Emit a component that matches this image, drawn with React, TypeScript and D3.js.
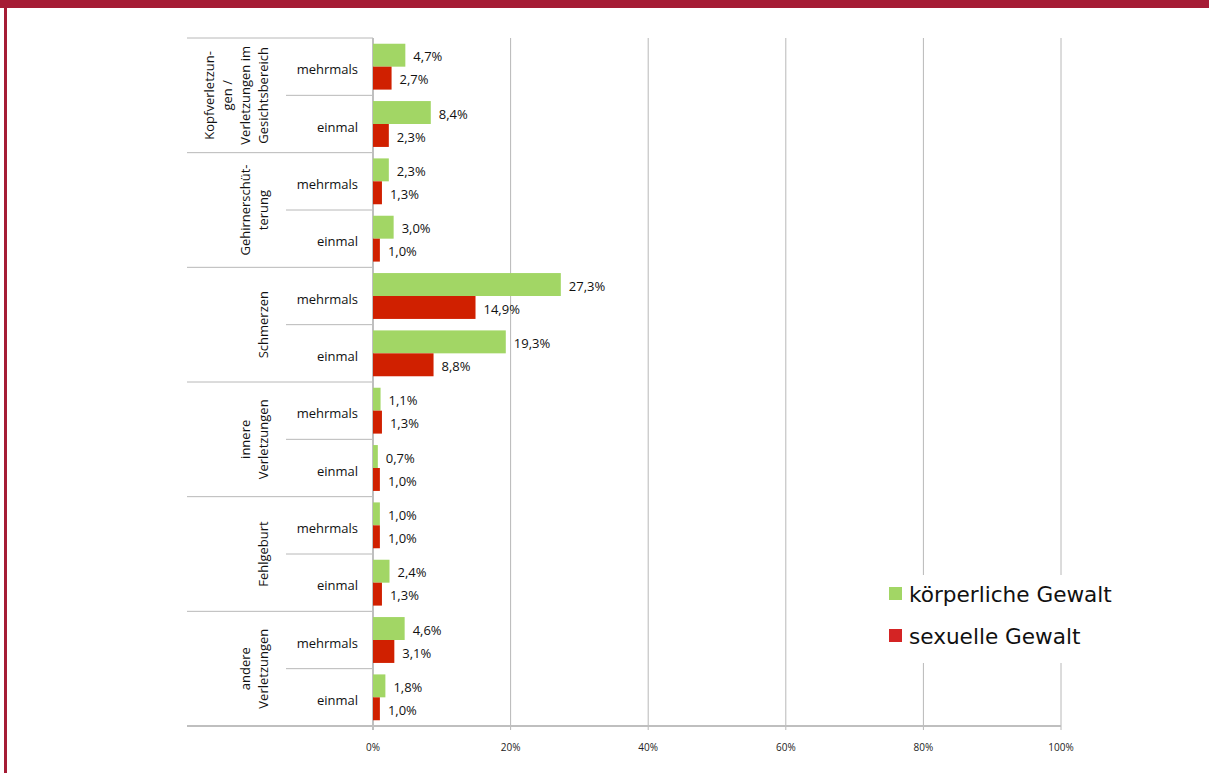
import React from "react";
import * as d3 from "d3";

const groups = ["Kopfverletzungen", "Gehirnerschütterung", "Schmerzen", "innere Verletzungen", "Fehlgeburt", "andere Verletzungen"];
const groupLabelLines = [
  ["Kopfverletzun-", "gen /", "Verletzungen im", "Gesichtsbereich"],
  ["Gehirnerschüt-", "terung"],
  ["Schmerzen"],
  ["innere", "Verletzungen"],
  ["Fehlgeburt"],
  ["andere", "Verletzungen"],
];
const subCategories = ["mehrmals", "einmal"];
const seriesNames = ["körperliche Gewalt", "sexuelle Gewalt"];
// values per group: [mehrmals, einmal]
const koerperlich = [4.7, 8.4, 2.3, 3.0, 27.3, 19.3, 1.1, 0.7, 1.0, 2.4, 4.6, 1.8];
const sexuell = [2.7, 2.3, 1.3, 1.0, 14.9, 8.8, 1.3, 1.0, 1.0, 1.3, 3.1, 1.0];
const ticks = [0, 20, 40, 60, 80, 100];

const GREEN = "#a2d665";
const RED = "#d02000";
const GRID = "#b8b8b8";
const FONT = "'Open Sans', 'Noto Sans', sans-serif";

export default function App() {
  const W = 1209, H = 773;
  const left = 373, right = 1061, top = 38, bottom = 726;
  const x = d3.scaleLinear().domain([0, 100]).range([left, right]);
  const rows = groups.flatMap((g, gi) => subCategories.map((s, si) => `${gi}-${si}`));
  const y = d3.scaleBand().domain(rows).range([top, bottom]).paddingInner(0).paddingOuter(0);
  const yg = d3.scaleBand().domain(groups).range([top, bottom]);
  const inner = d3.scaleBand().domain(seriesNames).range([0, y.bandwidth()]).paddingOuter(0.25).paddingInner(0);
  const fmt = (v: number) => v.toFixed(1).replace(".", ",") + "%";

  return (
    <svg width={W} height={H} style={{ position: "absolute", left: 0, top: 0, background: "#fff" }}>
      <rect x={0} y={0} width={W} height={8} fill="#a51c35" />
      <rect x={4} y={0} width={3} height={H} fill="#a51c35" />
      {/* grid */}
      {ticks.map((t) => (
        <g key={t}>
          {t > 0 && <line x1={x(t)} x2={x(t)} y1={top} y2={bottom} stroke={GRID} strokeWidth={1} />}
          <line x1={x(t)} x2={x(t)} y1={bottom} y2={bottom + 4} stroke={GRID} strokeWidth={1} />
          <text x={x(t)} y={751} textAnchor="middle" fontSize={10} fontFamily={FONT} fill="#222">
            {t}%
          </text>
        </g>
      ))}
      {/* category separators */}
      {groups.map((g) => (
        <line key={g} x1={187} x2={left} y1={yg(g)!} y2={yg(g)!} stroke={GRID} strokeWidth={1} />
      ))}
      {rows.filter((r) => r.endsWith("-1")).map((r) => (
        <line key={r} x1={286} x2={left} y1={y(r)!} y2={y(r)!} stroke={GRID} strokeWidth={1} />
      ))}
      <line x1={187} x2={right} y1={bottom} y2={bottom} stroke="#bfbfbf" strokeWidth={2} />
      <line x1={left} x2={left} y1={top} y2={bottom + 4} stroke="#bfbfbf" strokeWidth={2} />
      {/* group labels */}
      {groups.map((g, gi) => {
        const lines = groupLabelLines[gi];
        const cy = yg(g)! + yg.bandwidth() / 2;
        return lines.map((ln, li) => {
          const cx = 263 - (lines.length - 1 - li) * 18;
          return (
            <text key={g + li} transform={`translate(${cx},${cy}) rotate(-90)`} textAnchor="middle" dy="0.35em" fontSize={13} fontFamily={FONT} fill="#111">
              {ln}
            </text>
          );
        });
      })}
      {/* sub labels */}
      {rows.map((r) => (
        <text key={r} x={358} y={y(r)! + y.bandwidth() / 2 + 3} dy="0.35em" textAnchor="end" fontSize={13} fontFamily={FONT} fill="#111">
          {subCategories[+r.split("-")[1]]}
        </text>
      ))}
      {/* bars */}
      {rows.map((r, i) => {
        const vals = [koerperlich[i], sexuell[i]];
        return seriesNames.map((s, si) => {
          const by = y(r)! + inner(s)!;
          return (
            <g key={r + s}>
              <rect x={x(0)} y={by} width={x(vals[si]) - x(0)} height={inner.bandwidth()} fill={si === 0 ? GREEN : RED} />
              <text x={x(vals[si]) + 8} y={by + inner.bandwidth() / 2 + 1.5} dy="0.35em" fontSize={13} fontFamily={FONT} fill="#111">
                {fmt(vals[si])}
              </text>
            </g>
          );
        });
      })}
      {/* legend */}
      <rect x={876} y={575} width={245} height={88} fill="#fff" />
      {seriesNames.map((s, si) => (
        <g key={s}>
          <rect x={889} y={587 + si * 42} width={13} height={13} fill={si === 0 ? GREEN : "#d42424"} />
          <text x={909} y={594 + si * 42} dy="0.35em" fontSize={21.6} fontFamily="'DejaVu Sans', sans-serif" fill="#111">
            {s}
          </text>
        </g>
      ))}
    </svg>
  );
}
